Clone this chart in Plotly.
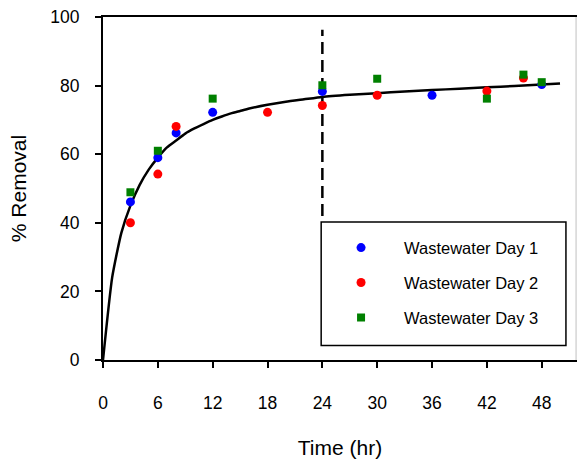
import plotly.graph_objects as go

# Data
day1_t = [3, 6, 8, 12, 24, 36, 48]
day1_v = [46.1, 59.0, 66.2, 72.2, 78.3, 77.2, 80.3]

day2_t = [3, 6, 8, 18, 24, 30, 42, 46]
day2_v = [40.0, 54.2, 68.1, 72.2, 74.2, 77.2, 78.4, 82.2]

day3_t = [3, 6, 12, 24, 30, 42, 46, 48]
day3_v = [48.9, 61.0, 76.2, 80.1, 82.0, 76.2, 83.2, 81.0]

fit_t = [0, 1, 2, 3, 4, 5, 6, 7, 8, 9, 10, 11, 12, 13, 14, 15, 16, 18, 20, 22, 24, 27, 30,
         33, 36, 39, 42, 45, 48, 50]
fit_v = [0, 24, 37, 45, 51, 55.5, 59, 62, 64, 66, 67.5, 68.8, 70, 71, 71.9, 72.6, 73.3,
         74.4, 75.3, 76, 76.7, 77.3, 77.8, 78.3, 78.7, 79.1, 79.5, 79.9, 80.3, 80.6]

x_ticks = [0, 6, 12, 18, 24, 30, 36, 42, 48]
y_ticks = [0, 20, 40, 60, 80, 100]

divider_t = 24
divider_range = [42, 96.3]

FONT = "Liberation Sans, Arial, sans-serif"

fig = go.Figure()

fig.add_trace(go.Scatter(x=fit_t, y=fit_v, mode="lines",
                         line=dict(color="black", width=2.5, shape="spline", smoothing=0.5),
                         showlegend=False, hoverinfo="skip"))
fig.add_trace(go.Scatter(x=[divider_t, divider_t], y=divider_range, mode="lines",
                         line=dict(color="black", width=2.5, dash="12px,6px"),
                         showlegend=False, hoverinfo="skip"))

fig.add_trace(go.Scatter(x=day1_t, y=day1_v, mode="markers", name="Wastewater Day 1",
                         legendgroup="d1",
                         marker=dict(symbol="circle", size=9, color="#0000FF")))
fig.add_trace(go.Scatter(x=day2_t, y=day2_v, mode="markers", name="Wastewater Day 2",
                         legendgroup="d2",
                         marker=dict(symbol="circle", size=9, color="#FF0000")))
fig.add_trace(go.Scatter(x=day3_t, y=day3_v, mode="markers", name="Wastewater Day 3",
                         legendgroup="d3",
                         marker=dict(symbol="square", size=8, color="#008000")))

# legend frame
fig.add_shape(type="rect", xref="x", yref="y", x0=23.87, x1=50.65, y0=4.2, y1=40.2,
              line=dict(color="black", width=1.5), fillcolor="white", layer="above")
# right frame edge (light gray)
fig.add_shape(type="line", xref="paper", yref="paper", x0=0.998, x1=0.998, y0=0, y1=1,
              line=dict(color="#c0c0c0", width=1), layer="above")

fig.update_layout(
    width=578, height=462,
    margin=dict(l=103, r=1, t=17, b=102),
    paper_bgcolor="white", plot_bgcolor="white",
    font=dict(family=FONT, color="black"),
    showlegend=True,
    legend=dict(x=0.4537, y=0.378, xanchor="left", yanchor="top",
                bgcolor="rgba(0,0,0,0)", borderwidth=0,
                font=dict(size=16.5, family=FONT),
                itemwidth=76, tracegroupgap=10.5, traceorder="grouped"),
    xaxis=dict(range=[0, 51.86], tickvals=x_ticks, ticktext=[str(v) for v in x_ticks],
               showgrid=False, zeroline=False, showline=True, linecolor="black",
               linewidth=2, mirror=True, ticks="outside", ticklen=6, tickwidth=2,
               tickcolor="black", tickfont=dict(size=17.5), ticklabelstandoff=20,
               title=dict(text="Time (hr)", font=dict(size=21), standoff=28)),
    yaxis=dict(range=[0, 100], tickvals=y_ticks, showgrid=False, zeroline=False,
               showline=True, linecolor="black", linewidth=2, ticks="outside",
               ticklen=6, tickwidth=2, tickcolor="black", tickfont=dict(size=17.5),
               ticklabelstandoff=12,
               title=dict(text="% Removal", font=dict(size=21), standoff=18)),
)

fig.write_html("out.html")
